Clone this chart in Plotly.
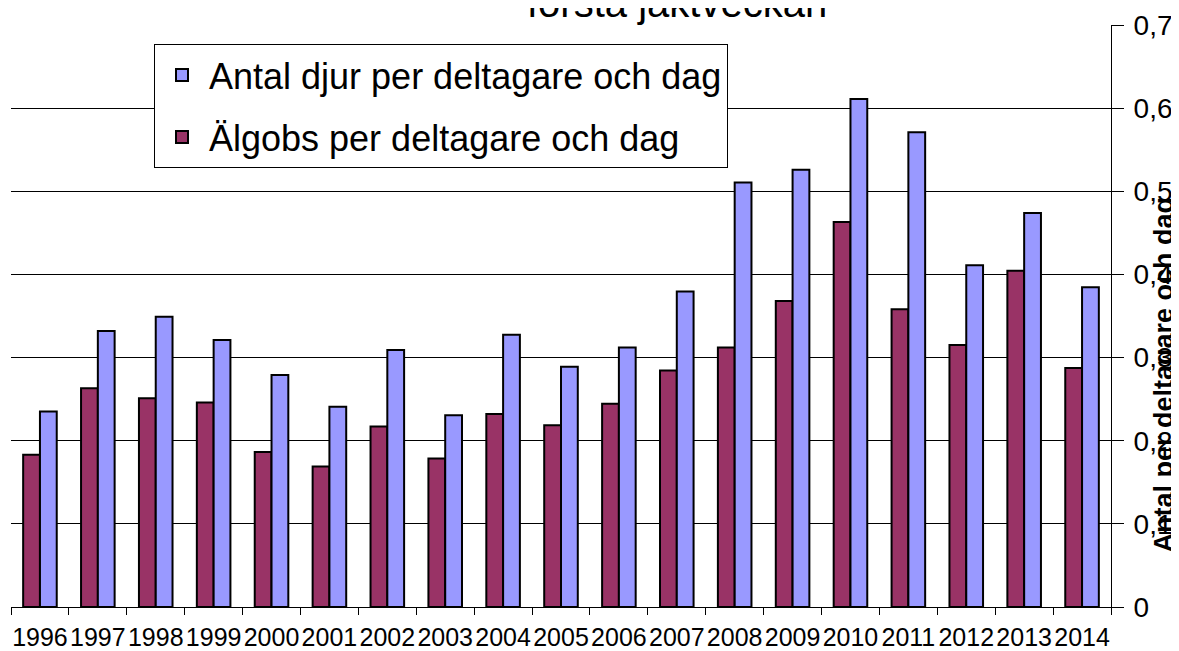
import plotly.graph_objects as go

years = [str(y) for y in range(1996, 2015)]
antal_djur = [0.235, 0.332, 0.349, 0.321, 0.279, 0.241, 0.309, 0.2305, 0.3275, 0.289,
              0.312, 0.3796, 0.5106, 0.526, 0.611, 0.571, 0.411, 0.474, 0.3845]
algobs = [0.183, 0.263, 0.251, 0.246, 0.1865, 0.169, 0.217, 0.1785, 0.232, 0.2185,
          0.2446, 0.2846, 0.312, 0.368, 0.463, 0.358, 0.315, 0.4045, 0.2875]
tick_vals = [0, 0.1, 0.2, 0.3, 0.4, 0.5, 0.6, 0.7]
tick_text = ["0", "0,1", "0,2", "0,3", "0,4", "0,5", "0,6", "0,7"]
name_antal = "Antal djur per deltagare och dag"
name_algobs = "Älgobs per deltagare och dag"
title_text = "första jaktveckan"
ytitle_text = "Antal per deltagare och dag"

FONT = "Arial, Liberation Sans, sans-serif"

fig = go.Figure()
fig.add_trace(go.Bar(x=years, y=algobs, name=name_algobs, legendgroup="b", legendrank=2,
                     marker=dict(color="#993366", line=dict(color="black", width=2))))
fig.add_trace(go.Bar(x=years, y=antal_djur, name=name_antal, legendgroup="a", legendrank=1,
                     marker=dict(color="#9999FF", line=dict(color="black", width=2))))

# page body has an 8px default margin, so the figure is 8px smaller than the window
fig.update_layout(
    width=1171, height=643,
    margin=dict(l=3, r=68, t=17, b=44, pad=0),
    paper_bgcolor="white", plot_bgcolor="white",
    font=dict(family=FONT, color="black"),
    barmode="group", bargap=0.42, bargroupgap=0,
    showlegend=True,
    legend=dict(x=0.130, y=0.967, xanchor="left", yanchor="top",
                bgcolor="white", bordercolor="black", borderwidth=1,
                itemwidth=44,
                font=dict(size=36, family=FONT, color="black"),
                traceorder="grouped", tracegroupgap=12),
    xaxis=dict(type="category", showline=True, linecolor="black", linewidth=1,
               ticks="outside", tickson="boundaries", ticklen=7, tickcolor="black",
               tickangle=0, automargin=False, ticklabelstandoff=8,
               tickfont=dict(size=25, family=FONT, color="black"),
               showgrid=False, zeroline=False),
    yaxis=dict(side="right", range=[0, 0.7], tickvals=tick_vals, ticktext=tick_text,
               showline=True, linecolor="black", linewidth=1,
               ticks="outside", ticklen=12, tickcolor="black",
               ticklabelstandoff=4, automargin=False,
               tickfont=dict(size=28, family=FONT, color="black"),
               showgrid=True, gridcolor="black", gridwidth=1, zeroline=False),
    annotations=[
        dict(text=title_text, xref="paper", yref="paper", x=0.6055, y=1,
             xanchor="center", yanchor="bottom", yshift=-2, showarrow=False,
             font=dict(size=40, family=FONT, color="black")),
        dict(text="<b>" + ytitle_text + "</b>", xref="paper", yref="paper",
             x=1.048, y=0.399, xanchor="center", yanchor="middle", textangle=-90,
             showarrow=False, font=dict(size=27, family=FONT, color="black")),
    ],
)

fig.write_html("out.html")
